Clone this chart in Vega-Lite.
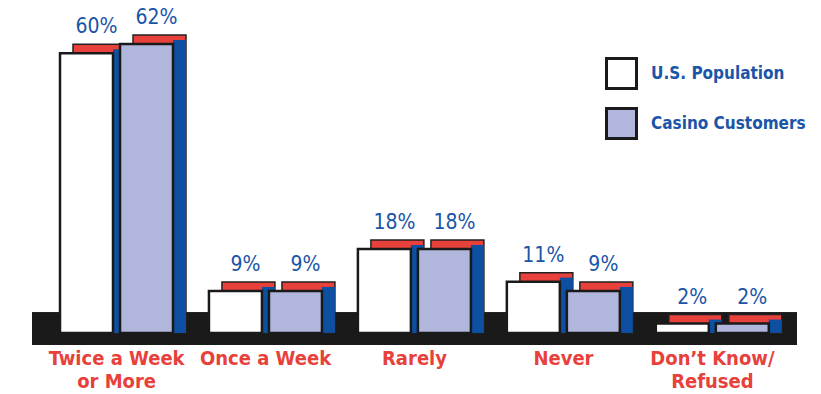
{
  "$schema": "https://vega.github.io/schema/vega-lite/v6.json",
  "autosize": {"type": "none"},
  "width": 765,
  "height": 301,
  "padding": {"left": 32, "top": 44, "right": 24, "bottom": 49},
  "background": "#ffffff",
  "config": {"view": {"stroke": null}, "font": "DejaVu Sans Condensed, sans-serif"},
  "data": {"values": [
    {"frequency": "Twice a Week or More", "group": "U.S. Population", "pct": 60},
    {"frequency": "Twice a Week or More", "group": "Casino Customers", "pct": 62},
    {"frequency": "Once a Week", "group": "U.S. Population", "pct": 9},
    {"frequency": "Once a Week", "group": "Casino Customers", "pct": 9},
    {"frequency": "Rarely", "group": "U.S. Population", "pct": 18},
    {"frequency": "Rarely", "group": "Casino Customers", "pct": 18},
    {"frequency": "Never", "group": "U.S. Population", "pct": 11},
    {"frequency": "Never", "group": "Casino Customers", "pct": 9},
    {"frequency": "Don’t Know/Refused", "group": "U.S. Population", "pct": 2},
    {"frequency": "Don’t Know/Refused", "group": "Casino Customers", "pct": 2}
  ]},
  "transform": [{"calculate": "datum.pct + '%'", "as": "label"}],
  "encoding": {
    "x": {
      "field": "frequency", "type": "nominal", "sort": null,
      "scale": {"paddingInner": 0.24, "paddingOuter": 0.188},
      "axis": {
        "title": null, "domain": false, "ticks": false,
        "labelAngle": 0, "labelColor": "#e8403a", "labelFontSize": 20, "labelFontWeight": "bold",
        "labelFont": "DejaVu Sans Condensed, sans-serif",
        "labelPadding": 3, "labelLineHeight": 23, "labelBaseline": "top",
        "labelExpr": "datum.label == 'Twice a Week or More' ? ['Twice a Week', 'or More'] : datum.label == 'Don’t Know/Refused' ? ['Don’t Know/', 'Refused'] : datum.label"
      }
    }
  },
  "resolve": {"scale": {"xOffset": "independent"}},
  "layer": [
    {
      "mark": {"type": "rect", "fill": "#1a1a1a"},
      "encoding": {
        "x": null,
        "y": {"datum": 4.3, "type": "quantitative", "scale": {"domain": [-2.6, 62], "nice": false, "zero": false}, "axis": null},
        "y2": {"datum": -2.6}
      }
    },
    {
      "mark": {"type": "bar", "fill": "#e8403a", "stroke": "#222222", "strokeWidth": 1.5, "yOffset": -9},
      "encoding": {
        "xOffset": {"field": "group", "type": "nominal", "sort": ["U.S. Population", "Casino Customers"], "scale": {"range": [13, 126], "paddingInner": 0.117, "paddingOuter": 0}},
        "y": {"field": "pct", "type": "quantitative"},
        "y2": {"datum": 0}
      }
    },
    {
      "mark": {"type": "bar", "fill": "#0d4fa0", "yOffset": -4},
      "encoding": {
        "xOffset": {"field": "group", "type": "nominal", "sort": ["U.S. Population", "Casino Customers"], "scale": {"range": [53, 126], "paddingInner": 0.7833, "paddingOuter": 0}},
        "y": {"field": "pct", "type": "quantitative"},
        "y2": {"datum": 0}
      }
    },
    {
      "mark": {"type": "bar", "stroke": "#1a1a1a", "strokeWidth": 2.5},
      "encoding": {
        "xOffset": {"field": "group", "type": "nominal", "sort": ["U.S. Population", "Casino Customers"], "scale": {"range": [0, 113], "paddingInner": 0.117, "paddingOuter": 0}},
        "y": {"field": "pct", "type": "quantitative"},
        "y2": {"datum": 0},
        "fill": {
          "field": "group", "type": "nominal", "sort": ["U.S. Population", "Casino Customers"],
          "scale": {"domain": ["U.S. Population", "Casino Customers"], "range": ["#ffffff", "#b0b6dc"]},
          "legend": {
            "title": null, "orient": "none", "legendX": 573, "legendY": 13,
            "symbolType": "square", "symbolSize": 900, "symbolStrokeColor": "#1a1a1a", "symbolStrokeWidth": 3,
            "labelColor": "#1a55a8", "labelFontSize": 17, "labelFontWeight": "bold",
            "labelFont": "DejaVu Sans Condensed, sans-serif",
            "labelOffset": 13, "rowPadding": 7, "symbolOpacity": 1, "labelLimit": 300
          }
        }
      }
    },
    {
      "mark": {"type": "text", "color": "#1a55a8", "fontSize": 21, "baseline": "alphabetic", "dy": -20,
        "font": "DejaVu Sans Condensed, sans-serif"},
      "encoding": {
        "xOffset": {"field": "group", "type": "nominal", "sort": ["U.S. Population", "Casino Customers"], "scale": {"type": "point", "range": [36.5, 96.5], "padding": 0}},
        "y": {"field": "pct", "type": "quantitative"},
        "text": {"field": "label", "type": "nominal"}
      }
    }
  ]
}
